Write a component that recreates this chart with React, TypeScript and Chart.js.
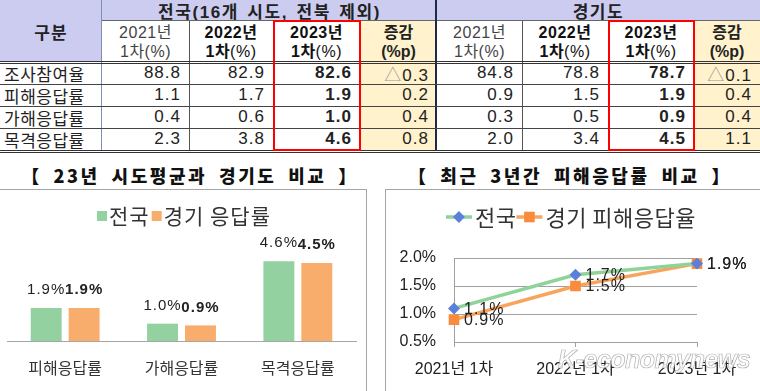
import React, { useEffect, useRef } from 'react';
import { Chart, registerables } from 'chart.js';

Chart.register(...registerables);

const FONT = '"Liberation Sans", "Noto Sans CJK KR", sans-serif';
const KFONT = '"Noto Sans CJK KR", "Liberation Sans", sans-serif';

// ---- table data ----
const rowLabels = ['조사참여율', '피해응답률', '가해응답률', '목격응답률'];
const national2021 = ['88.8', '1.1', '0.4', '2.3'];
const national2022 = ['82.9', '1.7', '0.6', '3.8'];
const national2023 = ['82.6', '1.9', '1.0', '4.6'];
const nationalDiff = ['△0.3', '0.2', '0.4', '0.8'];
const gyeonggi2021 = ['84.8', '0.9', '0.3', '2.0'];
const gyeonggi2022 = ['78.8', '1.5', '0.5', '3.4'];
const gyeonggi2023 = ['78.7', '1.9', '0.9', '4.5'];
const gyeonggiDiff = ['△0.1', '0.4', '0.4', '1.1'];

// ---- bar chart data ----
const barCategories = ['피해응답률', '가해응답률', '목격응답률'];
const barNational = [1.9, 1.0, 4.6];
const barGyeonggi = [1.9, 0.9, 4.5];

// ---- line chart data ----
const lineLabels = ['2021년 1차', '2022년 1차', '2023년 1차'];
const lineNational = [1.1, 1.7, 1.9];
const lineGyeonggi = [0.9, 1.5, 1.9];
const lineTicks = [0.5, 1.0, 1.5, 2.0];

const LAV = '#ccccf0';
const YEL = '#fff2cc';
const GREEN = '#93d2a0';
const ORANGE = '#f9ad6d';

const colX = [0, 102, 189, 273, 360, 437, 522, 608, 694, 760];
const rowY = [0, 21, 62, 84, 106, 128, 150];

const barLabelPlugin = {
  id: 'barLabels',
  afterDatasetsDraw(chart: any) {
    const ctx = chart.ctx;
    chart.data.datasets.forEach((ds: any, di: number) => {
      const meta = chart.getDatasetMeta(di);
      meta.data.forEach((el: any, i: number) => {
        ctx.save();
        ctx.font = `${di === 1 ? 'bold ' : ''}15px ${FONT}`;
        (ctx as any).letterSpacing = '1px';
        ctx.fillStyle = '#222';
        ctx.textAlign = 'center';
        ctx.textBaseline = 'middle';
        ctx.fillText(Number(ds.data[i]).toFixed(1) + '%', el.x, el.y - 18);
        ctx.restore();
      });
    });
  },
};

const barLegendPlugin = {
  id: 'barLegend',
  afterDraw(chart: any) {
    const ctx = chart.ctx;
    ctx.save();
    ctx.font = `21px ${KFONT}`;
    (ctx as any).letterSpacing = '1px';
    const items = chart.data.datasets.map((d: any) => ({ label: d.label, color: d.backgroundColor }));
    const sq = 10, gap = 2, after = 2;
    const total = items.reduce((s: number, it: any) => s + sq + gap + ctx.measureText(it.label).width + after, 0) - after;
    let x = (chart.width - total) / 2 + 1;
    const y = 25;
    items.forEach((it: any) => {
      ctx.fillStyle = it.color;
      ctx.fillRect(x, y - 4, sq, sq);
      x += sq + gap;
      ctx.fillStyle = '#333';
      ctx.textBaseline = 'middle';
      ctx.textAlign = 'left';
      ctx.fillText(it.label, x, y + 1);
      x += ctx.measureText(it.label).width + after;
    });
    ctx.restore();
  },
};

const lineLabelPlugin = {
  id: 'lineLabels',
  afterDatasetsDraw(chart: any) {
    const ctx = chart.ctx;
    chart.data.datasets.forEach((ds: any, di: number) => {
      const meta = chart.getDatasetMeta(di);
      meta.data.forEach((el: any, i: number) => {
        ctx.save();
        ctx.font = `16px ${FONT}`;
        (ctx as any).letterSpacing = '1px';
        ctx.fillStyle = '#222';
        ctx.textAlign = 'left';
        ctx.textBaseline = 'middle';
        ctx.fillText(Number(ds.data[i]).toFixed(1) + '%', el.x + 10, el.y + 1);
        ctx.restore();
      });
    });
  },
};

const lineLegendPlugin = {
  id: 'lineLegend',
  afterDraw(chart: any) {
    const ctx = chart.ctx;
    ctx.save();
    ctx.font = `22px ${KFONT}`;
    (ctx as any).letterSpacing = '0.5px';
    const segW = 26, gap = 3, after = 0;
    const ds = chart.data.datasets;
    const total = ds.reduce((s: number, d: any) => s + segW + gap + ctx.measureText(d.label).width + after, 0) - after;
    let x = (chart.width - total) / 2 - 2;
    const y = 27;
    ds.forEach((d: any) => {
      ctx.strokeStyle = d.borderColor;
      ctx.lineWidth = d.borderWidth;
      ctx.beginPath();
      ctx.moveTo(x, y);
      ctx.lineTo(x + segW, y);
      ctx.stroke();
      ctx.fillStyle = d.pointBackgroundColor;
      const cx = x + segW / 2;
      if (d.pointStyle === 'rectRot') {
        const r = d.pointRadius;
        ctx.beginPath();
        ctx.moveTo(cx, y - r);
        ctx.lineTo(cx + r, y);
        ctx.lineTo(cx, y + r);
        ctx.lineTo(cx - r, y);
        ctx.closePath();
        ctx.fill();
      } else {
        const h = d.pointRadius * Math.SQRT1_2;
        ctx.fillRect(cx - h, y - h, 2 * h, 2 * h);
      }
      x += segW + gap;
      ctx.fillStyle = '#333';
      ctx.textBaseline = 'middle';
      ctx.textAlign = 'left';
      ctx.fillText(d.label, x, y + 1);
      x += ctx.measureText(d.label).width + after;
    });
    ctx.restore();
  },
};

function Box(props: { x0: number; x1: number; y0: number; y1: number; bg?: string; children?: any; align?: string; style?: any }) {
  const { x0, x1, y0, y1, bg, children, align, style } = props;
  return (
    <div
      style={{
        position: 'absolute',
        left: x0,
        top: y0,
        width: x1 - x0,
        height: y1 - y0,
        background: bg || 'transparent',
        display: 'flex',
        alignItems: 'center',
        justifyContent: align === 'right' ? 'flex-end' : align === 'left' ? 'flex-start' : 'center',
        boxSizing: 'border-box',
        paddingRight: align === 'right' ? 8 : 0,
        paddingLeft: align === 'left' ? 4 : 0,
        whiteSpace: 'nowrap',
        ...style,
      }}
    >
      {children}
    </div>
  );
}

function Line(props: { x: number; y: number; w: number; h: number; c: string }) {
  return <div style={{ position: 'absolute', left: props.x, top: props.y, width: props.w, height: props.h, background: props.c }} />;
}

function YearHead(props: { year: string; bold: boolean }) {
  return (
    <div style={{ textAlign: 'center', lineHeight: '19px', fontSize: 16, letterSpacing: 0.5, color: props.bold ? '#111' : '#444' }}>
      <div style={{ fontWeight: props.bold ? 700 : 400 }}>{props.year}</div>
      <div>
        <span style={{ fontWeight: props.bold ? 700 : 400 }}>1차</span>
        <span>(%)</span>
      </div>
    </div>
  );
}

function DiffHead() {
  return (
    <div style={{ textAlign: 'center', lineHeight: '19px', fontSize: 16, fontWeight: 700, color: '#222' }}>
      <div>증감</div>
      <div>(%p)</div>
    </div>
  );
}

function DiffVal(props: { v: string }) {
  const v = props.v;
  if (v.startsWith('△')) {
    return (
      <span>
        <span style={{ color: '#999' }}>△</span>
        {v.slice(1)}
      </span>
    );
  }
  return <span>{v}</span>;
}

export default function App() {
  const barRef = useRef<HTMLCanvasElement>(null);
  const lineRef = useRef<HTMLCanvasElement>(null);

  useEffect(() => {
    const bar = new Chart(barRef.current!, {
      type: 'bar',
      data: {
        labels: barCategories,
        datasets: [
          { label: '전국', data: barNational, backgroundColor: GREEN, barPercentage: 0.816, categoryPercentage: 0.652 },
          { label: '경기 응답률', data: barGyeonggi, backgroundColor: ORANGE, barPercentage: 0.816, categoryPercentage: 0.652 },
        ],
      },
      options: {
        responsive: false,
        animation: false,
        layout: { padding: { left: 7, right: 10, top: 47, bottom: 10 } },
        plugins: { legend: { display: false }, tooltip: { enabled: false } },
        scales: {
          x: {
            grid: { display: false, drawTicks: false },
            border: { display: true, color: '#a6a6a6', width: 1 },
            ticks: { color: '#333', font: { family: KFONT, size: 16 }, padding: 17 },
            afterFit: (s: any) => { s.height = 40; },
          },
          y: { display: false, min: 0, max: 6 },
        },
      },
      plugins: [barLabelPlugin, barLegendPlugin],
    });

    const line = new Chart(lineRef.current!, {
      type: 'line',
      data: {
        labels: lineLabels,
        datasets: [
          {
            label: '전국',
            data: lineNational,
            borderColor: '#8fd39b',
            borderWidth: 3.5,
            pointStyle: 'rectRot',
            pointRadius: 6,
            pointBackgroundColor: '#5b7fdc',
            pointBorderColor: '#5b7fdc',
            pointBorderWidth: 0,
            tension: 0,
          },
          {
            label: '경기 피해응답율',
            data: lineGyeonggi,
            borderColor: '#f9a45c',
            borderWidth: 3.5,
            pointStyle: 'rect',
            pointRadius: 7.5,
            pointBackgroundColor: '#f98b3c',
            pointBorderColor: '#f98b3c',
            pointBorderWidth: 0,
            tension: 0,
          },
        ],
      },
      options: {
        responsive: false,
        animation: false,
        layout: { padding: { left: 10, right: 63, top: 68, bottom: 9 } },
        plugins: { legend: { display: false }, tooltip: { enabled: false } },
        scales: {
          x: {
            offset: false,
            grid: { display: true, drawOnChartArea: false, drawTicks: true, tickLength: 5, color: '#a0a0a0' },
            border: { display: true, color: '#a0a0a0' },
            ticks: { color: '#222', font: { family: FONT, size: 16 }, padding: 13, maxRotation: 0 },
            afterFit: (s: any) => { s.height = 40; },
          },
          y: {
            min: 0.5,
            max: 2.0,
            afterBuildTicks: (s: any) => { s.ticks = lineTicks.map((v) => ({ value: v })); },
            grid: { color: '#a0a0a0', drawTicks: false },
            border: { display: true, color: '#a0a0a0' },
            ticks: {
              color: '#222',
              font: { family: FONT, size: 16 },
              padding: 18,
              callback: (v: any) => Number(v).toFixed(1) + '%',
            },
            afterFit: (s: any) => { s.width = 58; },
          },
        },
      },
      plugins: [lineLabelPlugin, lineLegendPlugin],
    });

    return () => {
      bar.destroy();
      line.destroy();
    };
  }, []);

  const groups = [
    { c: 1, d: [national2021, national2022, national2023, nationalDiff] },
    { c: 5, d: [gyeonggi2021, gyeonggi2022, gyeonggi2023, gyeonggiDiff] },
  ];

  const cells: any[] = [];
  cells.push(
    <Box key="h0" x0={0} x1={102} y0={0} y1={62} bg={LAV} style={{ fontWeight: 700, fontSize: 17, letterSpacing: 1, color: '#222' }}>
      구분
    </Box>
  );
  cells.push(
    <Box key="h1" x0={102} x1={437} y0={0} y1={21} bg={LAV} style={{ fontWeight: 700, fontSize: 17, letterSpacing: 1.6, wordSpacing: 2, color: '#222' }}>
      전국(16개 시도, 전북 제외)
    </Box>
  );
  cells.push(
    <Box key="h2" x0={437} x1={760} y0={0} y1={21} bg={LAV} style={{ fontWeight: 700, fontSize: 17, letterSpacing: 1.6, color: '#222' }}>
      경기도
    </Box>
  );
  groups.forEach((g, gi) => {
    const years = ['2021년', '2022년', '2023년'];
    years.forEach((y, yi) => {
      cells.push(
        <Box key={`y${gi}${yi}`} x0={colX[g.c + yi]} x1={colX[g.c + yi + 1]} y0={21} y1={62} bg="#fff">
          <YearHead year={y} bold={yi > 0} />
        </Box>
      );
    });
    cells.push(
      <Box key={`d${gi}`} x0={colX[g.c + 3]} x1={colX[g.c + 4]} y0={21} y1={62} bg={YEL}>
        <DiffHead />
      </Box>
    );
    rowLabels.forEach((_, ri) => {
      for (let k = 0; k < 4; k++) {
        const isDiff = k === 3;
        cells.push(
          <Box
            key={`c${gi}${ri}${k}`}
            x0={colX[g.c + k]}
            x1={colX[g.c + k + 1]}
            y0={rowY[ri + 2]}
            y1={rowY[ri + 3]}
            bg={isDiff ? YEL : '#fff'}
            align="right"
            style={{ fontSize: 17, letterSpacing: 1, fontWeight: k === 2 ? 700 : 400, color: '#222' }}
          >
            {isDiff ? <DiffVal v={g.d[k][ri]} /> : g.d[k][ri]}
          </Box>
        );
      }
    });
  });
  rowLabels.forEach((r, ri) => {
    cells.push(
      <Box key={`r${ri}`} x0={0} x1={102} y0={rowY[ri + 2]} y1={rowY[ri + 3]} bg="#fff" align="left" style={{ fontSize: 17, letterSpacing: 0.5, color: '#222' }}>
        {r}
      </Box>
    );
  });

  const lines: any[] = [];
  lines.push(<Line key="l1" x={102} y={20} w={658} h={1} c="#666" />);
  [189, 273, 360, 522, 608, 694].forEach((x, i) => lines.push(<Line key={`v${i}`} x={x} y={21} w={1} h={130} c="#555" />));
  lines.push(<Line key="v0" x={101} y={0} w={1} h={151} c="#7f8fb8" />);
  lines.push(<Line key="vm" x={435} y={0} w={2} h={151} c="#1f2a4a" />);
  lines.push(<Line key="hd1" x={0} y={61} w={760} h={1} c="#333" />);
  lines.push(<Line key="hd2" x={0} y={63} w={760} h={1} c="#333" />);
  [84, 106, 128].forEach((y, i) => lines.push(<Line key={`h${i}`} x={0} y={y} w={760} h={1} c="#444" />));
  lines.push(<Line key="hb1" x={0} y={150} w={760} h={1} c="#333" />);
  lines.push(<Line key="hb2" x={0} y={152} w={760} h={1} c="#333" />);

  const redBoxes = [273, 608].map((x, i) => (
    <div
      key={`rb${i}`}
      style={{ position: 'absolute', left: x, top: 20, width: (i === 0 ? 360 : 694) - x + 1, height: 131, border: '2px solid #ff0000', boxSizing: 'border-box' }}
    />
  ));

  const titleStyle: any = {
    position: 'absolute',
    top: 162,
    height: 26,
    lineHeight: '26px',
    fontFamily: KFONT,
    fontWeight: 900,
    fontSize: 18,
    letterSpacing: 2.6,
    wordSpacing: 5,
    color: '#111',
    whiteSpace: 'nowrap',
    textAlign: 'center',
  };

  return (
    <div
      style={{
        position: 'absolute',
        left: 0,
        top: 0,
        width: 760,
        height: 391,
        overflow: 'hidden',
        background: '#fff',
        fontFamily: FONT,
      }}
    >
      {cells}
      {lines}
      {redBoxes}
      <div style={{ ...titleStyle, left: 0, width: 380 }}>【 23년 시도평균과 경기도 비교 】</div>
      <div style={{ ...titleStyle, left: 380, width: 380 }}>【 최근 3년간 피해응답률 비교 】</div>
      <div style={{ position: 'absolute', left: -1, top: 189, width: 368, height: 220, border: '1px solid #a6a6a6', boxSizing: 'border-box' }} />
      <div style={{ position: 'absolute', left: 385, top: 189, width: 390, height: 220, border: '1px solid #a6a6a6', boxSizing: 'border-box' }} />
      <canvas ref={barRef} width={366} height={201} style={{ position: 'absolute', left: 0, top: 190, width: 366, height: 201 }} />
      <canvas ref={lineRef} width={374} height={201} style={{ position: 'absolute', left: 386, top: 190, width: 374, height: 201 }} />
      <div
        style={{
          position: 'absolute',
          left: 558,
          top: 345,
          fontFamily: FONT,
          fontStyle: 'italic',
          fontWeight: 700,
          fontSize: 25,
          letterSpacing: -0.5,
          color: 'rgba(255,255,255,0.88)',
          WebkitTextStroke: '0.7px rgba(110,110,110,0.55)',
          whiteSpace: 'nowrap',
        }}
      >
        K-economynews
      </div>
    </div>
  );
}
